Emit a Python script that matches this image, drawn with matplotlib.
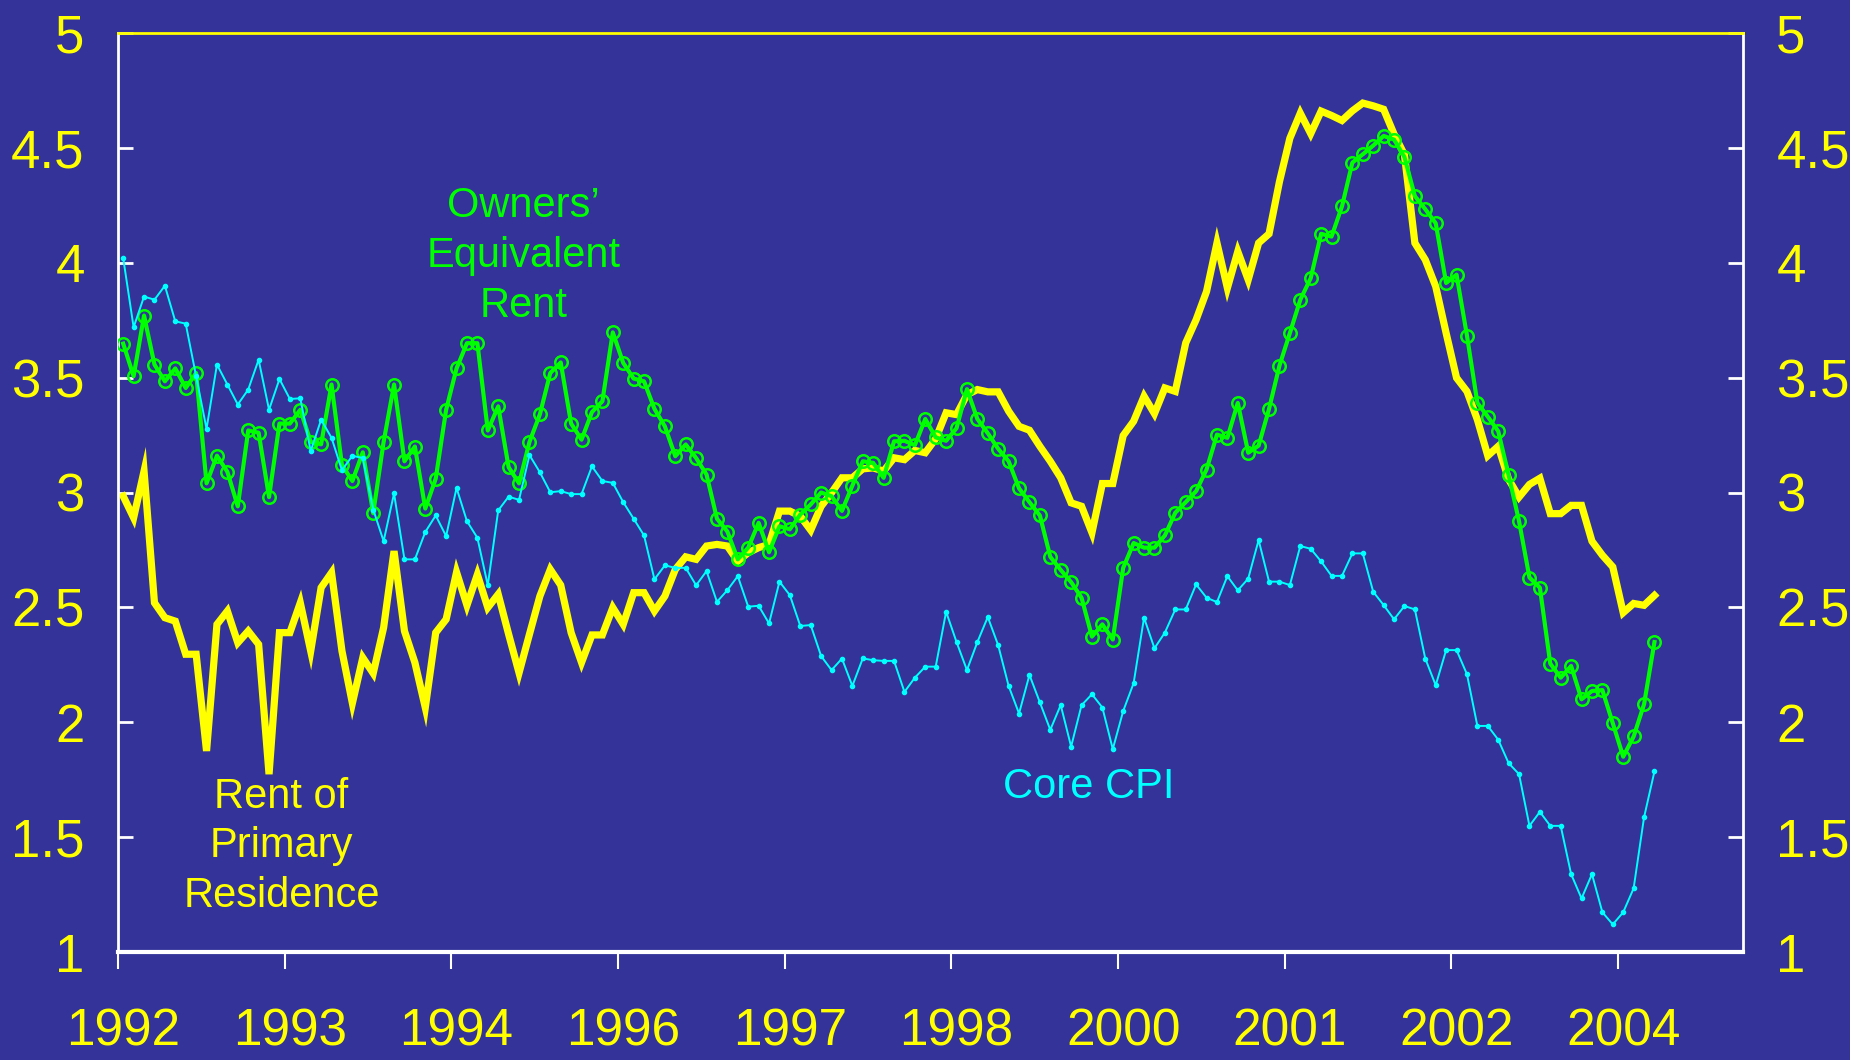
import numpy as np
import matplotlib
matplotlib.use('Agg')
import matplotlib.pyplot as plt
from matplotlib import font_manager

# monthly series, Jan 1992 .. Apr 2004 (category axis holds 156 months)
rent_primary = [2.984, 2.89, 3.093, 2.52, 2.455, 2.44, 2.296, 2.296, 1.875, 2.426,
                2.484, 2.346, 2.397, 2.339, 1.774, 2.39, 2.39, 2.52, 2.31, 2.586,
                2.651, 2.31, 2.083, 2.281, 2.213, 2.412, 2.745, 2.397, 2.26, 2.064,
                2.39, 2.448, 2.653, 2.509, 2.643, 2.499, 2.557, 2.383, 2.215, 2.383,
                2.549, 2.665, 2.597, 2.39, 2.26, 2.38, 2.38, 2.499, 2.426, 2.564,
                2.564, 2.484, 2.549, 2.665, 2.72, 2.709, 2.767, 2.774, 2.767, 2.701,
                2.738, 2.76, 2.774, 2.919, 2.919, 2.897, 2.836, 2.94, 2.999, 3.064,
                3.064, 3.103, 3.107, 3.093, 3.151, 3.143, 3.183, 3.173, 3.234, 3.347,
                3.339, 3.426, 3.448, 3.438, 3.438, 3.354, 3.288, 3.271, 3.201, 3.136,
                3.064, 2.955, 2.94, 2.825, 3.039, 3.039, 3.248, 3.31, 3.419, 3.343,
                3.455, 3.44, 3.651, 3.752, 3.875, 4.086, 3.89, 4.049, 3.926, 4.086,
                4.126, 4.353, 4.542, 4.651, 4.562, 4.66, 4.641, 4.619, 4.661, 4.695,
                4.683, 4.668, 4.56, 4.47, 4.086, 4.013, 3.897, 3.694, 3.499, 3.44,
                3.317, 3.16, 3.201, 3.057, 2.98, 3.035, 3.062, 2.908, 2.908, 2.944,
                2.944, 2.788, 2.727, 2.676, 2.477, 2.517, 2.509, 2.552]

owners_equiv = [3.648, 3.506, 3.77, 3.557, 3.484, 3.54, 3.455, 3.52, 3.04, 3.16,
                3.09, 2.94, 3.27, 3.26, 2.98, 3.30, 3.30, 3.36, 3.22, 3.21,
                3.47, 3.12, 3.05, 3.175, 2.91, 3.22, 3.47, 3.136, 3.20, 2.93,
                3.06, 3.36, 3.54, 3.65, 3.65, 3.27, 3.375, 3.11, 3.04, 3.22,
                3.34, 3.52, 3.566, 3.30, 3.23, 3.35, 3.397, 3.697, 3.564, 3.496,
                3.484, 3.364, 3.288, 3.158, 3.209, 3.15, 3.078, 2.886, 2.83, 2.709,
                2.76, 2.868, 2.74, 2.853, 2.84, 2.904, 2.948, 3.0, 2.984, 2.92,
                3.03, 3.136, 3.129, 3.064, 3.223, 3.225, 3.206, 3.32, 3.24, 3.225,
                3.28, 3.45, 3.32, 3.258, 3.19, 3.136, 3.018, 2.958, 2.9, 2.72,
                2.663, 2.61, 2.542, 2.373, 2.426, 2.36, 2.672, 2.78, 2.76, 2.76,
                2.813, 2.912, 2.958, 3.006, 3.10, 3.252, 3.238, 3.39, 3.173, 3.204,
                3.364, 3.552, 3.694, 3.839, 3.933, 4.126, 4.114, 4.245, 4.436, 4.472,
                4.51, 4.552, 4.536, 4.46, 4.29, 4.233, 4.172, 3.912, 3.948, 3.683,
                3.39, 3.33, 3.267, 3.076, 2.875, 2.63, 2.586, 2.255, 2.194, 2.245,
                2.10, 2.136, 2.14, 1.996, 1.85, 1.938, 2.078, 2.349]

core_cpi = [4.02, 3.719, 3.853, 3.839, 3.9, 3.745, 3.735, 3.506, 3.277, 3.557,
            3.47, 3.383, 3.448, 3.578, 3.36, 3.494, 3.407, 3.41, 3.18, 3.317,
            3.238, 3.097, 3.16, 3.15, 2.926, 2.788, 2.996, 2.709, 2.709, 2.828,
            2.9, 2.81, 3.02, 2.875, 2.803, 2.596, 2.922, 2.982, 2.968, 3.163,
            3.088, 3.001, 3.006, 2.993, 2.993, 3.114, 3.05, 3.042, 2.958, 2.886,
            2.813, 2.622, 2.683, 2.672, 2.672, 2.596, 2.658, 2.524, 2.575, 2.636,
            2.503, 2.507, 2.43, 2.612, 2.553, 2.419, 2.423, 2.288, 2.227, 2.277,
            2.158, 2.278, 2.27, 2.267, 2.267, 2.132, 2.194, 2.242, 2.242, 2.481,
            2.349, 2.227, 2.349, 2.458, 2.335, 2.158, 2.038, 2.206, 2.086, 1.967,
            2.075, 1.894, 2.074, 2.122, 2.064, 1.883, 2.049, 2.17, 2.455, 2.322,
            2.39, 2.491, 2.491, 2.6, 2.542, 2.523, 2.636, 2.574, 2.625, 2.793,
            2.612, 2.612, 2.597, 2.767, 2.755, 2.70, 2.637, 2.637, 2.735, 2.735,
            2.568, 2.51, 2.448, 2.506, 2.491, 2.277, 2.161, 2.314, 2.314, 2.209,
            1.984, 1.984, 1.924, 1.822, 1.774, 1.549, 1.61, 1.549, 1.549, 1.339,
            1.233, 1.339, 1.173, 1.12, 1.173, 1.277, 1.586, 1.786]

n_categories = 156
label_every = 16
x_labels = ['1992', '1993', '1994', '1996', '1997', '1998', '2000', '2001', '2002', '2004']
y_ticks = [1, 1.5, 2, 2.5, 3, 3.5, 4, 4.5, 5]
y_labels = ['1', '1.5', '2', '2.5', '3', '3.5', '4', '4.5', '5']

bg = '#333399'
yellow = '#ffff00'
green = '#00ff00'
cyan = '#00ffff'

names = {f.name for f in font_manager.fontManager.ttflist}
main_font = 'Liberation Sans' if 'Liberation Sans' in names else 'DejaVu Sans'
narrow_font = 'Liberation Sans Narrow' if 'Liberation Sans Narrow' in names else main_font
plt.rcParams['font.family'] = [main_font, 'DejaVu Sans']

fig = plt.figure(figsize=(18.5, 10.6), dpi=100, facecolor=bg)
ax = fig.add_axes([118 / 1850, 108 / 1060, 1625 / 1850, 919 / 1060])
ax.set_facecolor(bg)

x = np.arange(len(core_cpi)) + 0.5
ax.plot(x, rent_primary, color=yellow, lw=5.2, solid_joinstyle='miter', zorder=2)
ax.plot(x, owners_equiv, color=green, lw=3, marker='o', ms=9, mfc='none',
        mec=green, mew=1.8, zorder=3)
ax.plot(x, core_cpi, color=cyan, lw=1.4, marker='o', ms=3, mfc=cyan, mec=cyan, zorder=4)

ax.set_xlim(0, n_categories)
ax.set_ylim(1, 5)

# category axis: marks on boundaries, labels on the category centre
major = np.arange(0, len(x_labels) * label_every, label_every)
ax.set_xticks(major)
ax.set_xticklabels([])
ax.set_xticks(major + 0.5, minor=True)
ax.set_xticklabels(x_labels, minor=True, fontfamily=narrow_font)
ax.tick_params(axis='x', which='major', direction='out', length=12, width=1.5, color='white')
ax.tick_params(axis='x', which='minor', length=0, pad=40, labelsize=37, labelcolor=yellow)

ax.set_yticks(y_ticks)
ax.set_yticklabels(y_labels)
ax.tick_params(axis='y', which='both', left=True, right=True, labelleft=True, labelright=True,
               direction='in', length=11, width=2, color='white', labelcolor=yellow,
               labelsize=38, pad=24)

for side in ['left', 'right', 'bottom']:
    ax.spines[side].set_color('white')
    ax.spines[side].set_linewidth(2)
ax.spines['bottom'].set_linewidth(3)
ax.spines['top'].set_color(yellow)
ax.spines['top'].set_linewidth(2)

ax.text(38.9, 4.03, 'Owners’\nEquivalent\nRent', color=green, fontsize=30,
        ha='center', va='center', linespacing=1.33)
ax.text(15.7, 1.46, 'Rent of\nPrimary\nResidence', color=yellow, fontsize=30,
        ha='center', va='center', linespacing=1.3)
ax.text(93.2, 1.72, 'Core CPI', color=cyan, fontsize=30, ha='center', va='center')

fig.savefig('out.png', dpi=100, facecolor=bg)
